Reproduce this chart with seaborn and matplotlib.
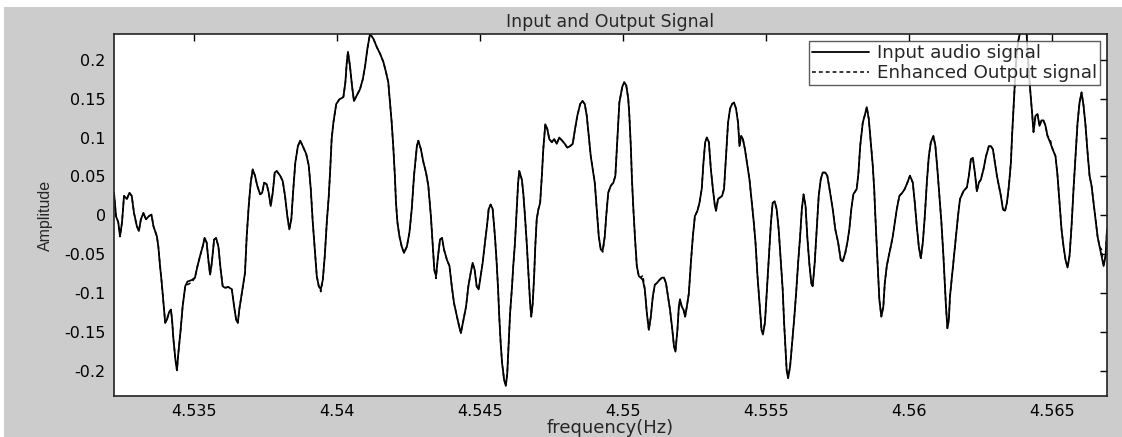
import matplotlib
matplotlib.use("Agg")
import matplotlib.pyplot as plt
import seaborn as sns
import pandas as pd
from matplotlib.patches import Rectangle

# --- traced signal (time axis labelled as frequency in the original) ---
freq = [
    4.53220, 4.53227, 4.53235, 4.53241, 4.53248, 4.53255, 4.53265, 4.53274, 4.53282, 4.53290,
    4.53300, 4.53307, 4.53314, 4.53323, 4.53332, 4.53342, 4.53351, 4.53358, 4.53370, 4.53375,
    4.53381, 4.53387, 4.53393, 4.53399, 4.53405, 4.53412, 4.53419, 4.53423, 4.53428, 4.53435,
    4.53440, 4.53445, 4.53453, 4.53460, 4.53469, 4.53477, 4.53492, 4.53503, 4.53512, 4.53521,
    4.53530, 4.53537, 4.53544, 4.53551, 4.53556, 4.53562, 4.53570, 4.53577, 4.53585, 4.53593,
    4.53600, 4.53608, 4.53620, 4.53632, 4.53640, 4.53647, 4.53653, 4.53658, 4.53667, 4.53678,
    4.53684, 4.53691, 4.53698, 4.53705, 4.53713, 4.53721, 4.53731, 4.53738, 4.53745, 4.53754,
    4.53761, 4.53768, 4.53775, 4.53782, 4.53789, 4.53801, 4.53810, 4.53818, 4.53826, 4.53833,
    4.53840, 4.53847, 4.53854, 4.53863, 4.53871, 4.53880, 4.53892, 4.53901, 4.53908, 4.53915,
    4.53922, 4.53929, 4.53936, 4.53943, 4.53950, 4.53957, 4.53964, 4.53971, 4.53976, 4.53981,
    4.53987, 4.53997, 4.54008, 4.54022, 4.54029, 4.54034, 4.54038, 4.54045, 4.54052, 4.54059,
    4.54069, 4.54080, 4.54090, 4.54098, 4.54106, 4.54115, 4.54127, 4.54139, 4.54150, 4.54162,
    4.54171, 4.54179, 4.54185, 4.54191, 4.54197, 4.54202, 4.54206, 4.54211, 4.54218, 4.54226,
    4.54234, 4.54244, 4.54253, 4.54261, 4.54269, 4.54279, 4.54284, 4.54293, 4.54302, 4.54311,
    4.54319, 4.54328, 4.54335, 4.54340, 4.54346, 4.54353, 4.54360, 4.54367, 4.54374, 4.54384,
    4.54393, 4.54401, 4.54409, 4.54419, 4.54427, 4.54433, 4.54442, 4.54451, 4.54459, 4.54467,
    4.54474, 4.54481, 4.54488, 4.54495, 4.54502, 4.54509, 4.54517, 4.54524, 4.54530, 4.54537,
    4.54544, 4.54552, 4.54558, 4.54563, 4.54567, 4.54572, 4.54577, 4.54584, 4.54590, 4.54595,
    4.54600, 4.54605, 4.54611, 4.54616, 4.54622, 4.54628, 4.54633, 4.54637, 4.54646, 4.54651,
    4.54657, 4.54663, 4.54669, 4.54675, 4.54679, 4.54684, 4.54689, 4.54693, 4.54698, 4.54704,
    4.54710, 4.54716, 4.54721, 4.54728, 4.54735, 4.54742, 4.54751, 4.54759, 4.54768, 4.54777,
    4.54787, 4.54796, 4.54805, 4.54815, 4.54824, 4.54832, 4.54840, 4.54850, 4.54858, 4.54866,
    4.54873, 4.54880, 4.54887, 4.54894, 4.54901, 4.54908, 4.54915, 4.54922, 4.54929, 4.54936,
    4.54941, 4.54948, 4.54957, 4.54966, 4.54973, 4.54980, 4.54987, 4.54997, 4.55004, 4.55011,
    4.55018, 4.55022, 4.55027, 4.55031, 4.55036, 4.55042, 4.55048, 4.55055, 4.55062, 4.55069,
    4.55076, 4.55083, 4.55090, 4.55097, 4.55104, 4.55111, 4.55118, 4.55127, 4.55136, 4.55143,
    4.55150, 4.55157, 4.55164, 4.55171, 4.55178, 4.55183, 4.55190, 4.55195, 4.55199, 4.55205,
    4.55211, 4.55217, 4.55223, 4.55230, 4.55237, 4.55244, 4.55251, 4.55260, 4.55267, 4.55275,
    4.55281, 4.55287, 4.55293, 4.55300, 4.55307, 4.55314, 4.55321, 4.55325, 4.55332, 4.55339,
    4.55346, 4.55353, 4.55360, 4.55367, 4.55374, 4.55381, 4.55388, 4.55395, 4.55402, 4.55407,
    4.55413, 4.55419, 4.55426, 4.55433, 4.55442, 4.55449, 4.55456, 4.55463, 4.55470, 4.55477,
    4.55484, 4.55489, 4.55496, 4.55503, 4.55510, 4.55517, 4.55523, 4.55530, 4.55537, 4.55544,
    4.55551, 4.55558, 4.55563, 4.55568, 4.55572, 4.55577, 4.55584, 4.55591, 4.55598, 4.55605,
    4.55612, 4.55619, 4.55625, 4.55631, 4.55638, 4.55644, 4.55651, 4.55658, 4.55663, 4.55670,
    4.55677, 4.55684, 4.55691, 4.55698, 4.55707, 4.55714, 4.55724, 4.55733, 4.55742, 4.55752,
    4.55761, 4.55768, 4.55777, 4.55784, 4.55791, 4.55798, 4.55805, 4.55817, 4.55823, 4.55829,
    4.55838, 4.55846, 4.55852, 4.55859, 4.55866, 4.55873, 4.55878, 4.55882, 4.55887, 4.55892,
    4.55896, 4.55903, 4.55910, 4.55915, 4.55922, 4.55929, 4.55936, 4.55943, 4.55950, 4.55957,
    4.55966, 4.55976, 4.55985, 4.55994, 4.56003, 4.56013, 4.56020, 4.56027, 4.56034, 4.56041,
    4.56048, 4.56055, 4.56062, 4.56069, 4.56076, 4.56085, 4.56092, 4.56099, 4.56106, 4.56113,
    4.56120, 4.56125, 4.56129, 4.56134, 4.56139, 4.56143, 4.56150, 4.56157, 4.56164, 4.56171,
    4.56178, 4.56190, 4.56202, 4.56209, 4.56216, 4.56223, 4.56230, 4.56237, 4.56244, 4.56251,
    4.56260, 4.56269, 4.56279, 4.56286, 4.56293, 4.56300, 4.56307, 4.56314, 4.56321, 4.56328,
    4.56335, 4.56342, 4.56349, 4.56356, 4.56360, 4.56365, 4.56370, 4.56374, 4.56381, 4.56395,
    4.56411, 4.56418, 4.56425, 4.56430, 4.56435, 4.56442, 4.56449, 4.56456, 4.56463, 4.56470,
    4.56477, 4.56484, 4.56493, 4.56502, 4.56512, 4.56519, 4.56526, 4.56533, 4.56540, 4.56547,
    4.56554, 4.56561, 4.56568, 4.56575, 4.56582, 4.56589, 4.56596, 4.56603, 4.56610, 4.56617,
    4.56624, 4.56631, 4.56638, 4.56645, 4.56652, 4.56659, 4.56666, 4.56673, 4.56680, 4.56687,
    4.56692,
]

input_amp = [
    0.029, -0.001, -0.009, -0.027, -0.009, 0.025, 0.021, 0.029, 0.025, 0.003,
    -0.014, -0.020, -0.005, 0.003, -0.005, -0.001, 0.001, -0.014, -0.027, -0.040,
    -0.065, -0.087, -0.113, -0.138, -0.134, -0.125, -0.121, -0.134, -0.160, -0.186,
    -0.199, -0.177, -0.147, -0.117, -0.091, -0.085, -0.083, -0.080, -0.065, -0.052,
    -0.040, -0.029, -0.035, -0.061, -0.076, -0.061, -0.031, -0.029, -0.040, -0.070,
    -0.091, -0.093, -0.092, -0.095, -0.117, -0.134, -0.138, -0.121, -0.100, -0.074,
    -0.027, 0.012, 0.042, 0.059, 0.051, 0.038, 0.027, 0.029, 0.042, 0.040,
    0.029, 0.012, 0.029, 0.055, 0.057, 0.051, 0.044, 0.025, -0.001, -0.018,
    -0.005, 0.034, 0.068, 0.089, 0.096, 0.089, 0.079, 0.064, 0.034, -0.009,
    -0.044, -0.078, -0.091, -0.095, -0.083, -0.052, -0.009, 0.025, 0.059, 0.098,
    0.119, 0.143, 0.149, 0.152, 0.171, 0.197, 0.210, 0.192, 0.167, 0.147,
    0.154, 0.162, 0.175, 0.192, 0.214, 0.233, 0.227, 0.216, 0.208, 0.197,
    0.184, 0.171, 0.145, 0.119, 0.085, 0.051, 0.016, -0.009, -0.027, -0.040,
    -0.048, -0.040, -0.022, 0.008, 0.051, 0.089, 0.096, 0.085, 0.068, 0.055,
    0.038, -0.001, -0.040, -0.070, -0.078, -0.052, -0.031, -0.029, -0.044, -0.057,
    -0.065, -0.091, -0.113, -0.130, -0.143, -0.151, -0.134, -0.117, -0.091, -0.074,
    -0.061, -0.070, -0.091, -0.095, -0.078, -0.061, -0.035, -0.014, 0.008, 0.014,
    0.008, -0.027, -0.061, -0.095, -0.130, -0.164, -0.190, -0.211, -0.219, -0.203,
    -0.164, -0.125, -0.095, -0.065, -0.035, 0.008, 0.042, 0.057, 0.046, 0.029,
    -0.001, -0.035, -0.074, -0.113, -0.130, -0.113, -0.078, -0.040, -0.005, 0.008,
    0.016, 0.051, 0.085, 0.117, 0.111, 0.098, 0.094, 0.098, 0.092, 0.100,
    0.096, 0.092, 0.087, 0.089, 0.092, 0.111, 0.128, 0.143, 0.147, 0.143,
    0.128, 0.102, 0.076, 0.059, 0.042, 0.008, -0.027, -0.044, -0.044, -0.027,
    -0.001, 0.029, 0.038, 0.042, 0.051, 0.098, 0.145, 0.165, 0.171, 0.167,
    0.150, 0.128, 0.089, 0.046, 0.008, -0.031, -0.065, -0.078, -0.080, -0.083,
    -0.095, -0.125, -0.147, -0.130, -0.104, -0.089, -0.087, -0.083, -0.080, -0.080,
    -0.087, -0.104, -0.121, -0.143, -0.168, -0.175, -0.147, -0.117, -0.108, -0.117,
    -0.121, -0.130, -0.117, -0.100, -0.061, -0.027, -0.001, 0.006, 0.016, 0.034,
    0.068, 0.094, 0.100, 0.094, 0.059, 0.034, 0.012, 0.006, 0.021, 0.023,
    0.025, 0.034, 0.076, 0.119, 0.137, 0.143, 0.145, 0.137, 0.119, 0.089,
    0.102, 0.098, 0.085, 0.068, 0.046, 0.021, -0.005, -0.035, -0.078, -0.113,
    -0.147, -0.153, -0.138, -0.095, -0.052, -0.009, 0.016, 0.018, 0.008, -0.018,
    -0.057, -0.095, -0.138, -0.173, -0.199, -0.209, -0.194, -0.164, -0.134, -0.100,
    -0.061, -0.027, 0.008, 0.027, 0.012, -0.027, -0.061, -0.087, -0.091, -0.061,
    -0.018, 0.025, 0.046, 0.055, 0.055, 0.051, 0.029, 0.008, -0.018, -0.035,
    -0.057, -0.059, -0.048, -0.035, -0.018, 0.008, 0.027, 0.034, 0.055, 0.089,
    0.119, 0.130, 0.139, 0.124, 0.094, 0.064, 0.034, -0.001, -0.040, -0.078,
    -0.108, -0.130, -0.117, -0.087, -0.065, -0.052, -0.040, -0.027, -0.009, 0.008,
    0.025, 0.029, 0.034, 0.042, 0.051, 0.042, 0.016, -0.014, -0.040, -0.055,
    -0.035, -0.001, 0.042, 0.076, 0.094, 0.102, 0.089, 0.059, 0.025, -0.009,
    -0.052, -0.087, -0.117, -0.145, -0.134, -0.104, -0.078, -0.052, -0.027, -0.001,
    0.021, 0.031, 0.036, 0.051, 0.072, 0.074, 0.055, 0.031, 0.042, 0.046,
    0.059, 0.076, 0.089, 0.089, 0.085, 0.068, 0.051, 0.038, 0.025, 0.008,
    0.006, 0.016, 0.038, 0.068, 0.102, 0.137, 0.171, 0.197, 0.223, 0.246,
    0.233, 0.188, 0.154, 0.132, 0.107, 0.128, 0.130, 0.115, 0.122, 0.122,
    0.115, 0.102, 0.094, 0.085, 0.076, 0.051, 0.016, -0.018, -0.040, -0.057,
    -0.067, -0.052, -0.014, 0.034, 0.076, 0.119, 0.145, 0.158, 0.141, 0.115,
    0.081, 0.051, 0.038, 0.016, -0.005, -0.027, -0.040, -0.052, -0.065, -0.052,
    -0.018,
]

# enhanced output follows the input almost exactly; a few visible departures
output_amp = list(input_amp)
output_fixes = {35: -0.089, 36: -0.086, 93: -0.098, 144: -0.081, 228: -0.047,
                249: -0.077, 311: -0.150, 430: 0.004, 452: 0.098, 477: -0.044}
for i, v in output_fixes.items():
    output_amp[i] = v

x_ticks = [4.535, 4.54, 4.545, 4.55, 4.555, 4.56, 4.565]
x_tick_labels = ["4.535", "4.54", "4.545", "4.55", "4.555", "4.56", "4.565"]
y_ticks = [-0.2, -0.15, -0.1, -0.05, 0, 0.05, 0.1, 0.15, 0.2]
y_tick_labels = ["-0.2", "-0.15", "-0.1", "-0.05", "0", "0.05", "0.1", "0.15", "0.2"]


def main():
    sns.set_style("white")
    # the screenshot is stretched sideways, so a wide face fits the horizontal text better
    plt.rcParams["font.family"] = ["DejaVu Sans"]

    df = pd.DataFrame({"freq": freq, "inp": input_amp, "out": output_amp})

    fig = plt.figure(figsize=(11.22, 4.37), dpi=100, facecolor="#cccccc")
    # thin white strip left and top as in the screenshot
    fig.add_artist(Rectangle((0, 0), 4 / 1122, 1, transform=fig.transFigure,
                             facecolor="white", edgecolor="none", zorder=-1))
    fig.add_artist(Rectangle((0, 1 - 7 / 437), 1, 7 / 437, transform=fig.transFigure,
                             facecolor="white", edgecolor="none", zorder=-1))

    ax = fig.add_axes([114 / 1122, 1 - 396 / 437, (1107 - 114) / 1122, (396 - 34) / 437])
    ax.set_facecolor("white")

    sns.lineplot(data=df, x="freq", y="inp", ax=ax, color="black", lw=1.3,
                 sort=False, estimator=None, label="Input audio signal")
    sns.lineplot(data=df, x="freq", y="out", ax=ax, color="black", lw=1.1,
                 linestyle=(0, (2.5, 2)), sort=False, estimator=None,
                 label="Enhanced Output signal")

    ax.set_xlim(4.5322, 4.56692)
    ax.set_ylim(-0.232, 0.233)
    ax.set_xticks(x_ticks)
    ax.set_xticklabels(x_tick_labels)
    ax.set_yticks(y_ticks)
    ax.set_yticklabels(y_tick_labels)
    ax.tick_params(direction="in", length=5, width=1, top=True, right=True,
                   labelsize=11.5, colors="black", pad=6)
    ax.tick_params(axis="x", pad=6)
    for s in ax.spines.values():
        s.set_color("#222222")
        s.set_linewidth(1.2)

    ax.set_title("Input and Output Signal", fontsize=12.5, pad=5)
    ax.set_xlabel("frequency(Hz)", fontsize=13, labelpad=0)
    ax.set_ylabel("Amplitude", fontsize=11.5, labelpad=8,
                  family=["Liberation Sans", "DejaVu Sans"])

    leg = ax.legend(loc="upper right", fontsize=13.2, frameon=True, fancybox=False,
                    borderaxespad=0.4, handlelength=3.1, handletextpad=0.45,
                    borderpad=0.15, labelspacing=0.12)
    leg.get_frame().set_edgecolor("#333333")
    leg.get_frame().set_linewidth(1.0)

    plt.savefig("out.png", dpi=100, facecolor=fig.get_facecolor())


if __name__ == "__main__":
    main()
